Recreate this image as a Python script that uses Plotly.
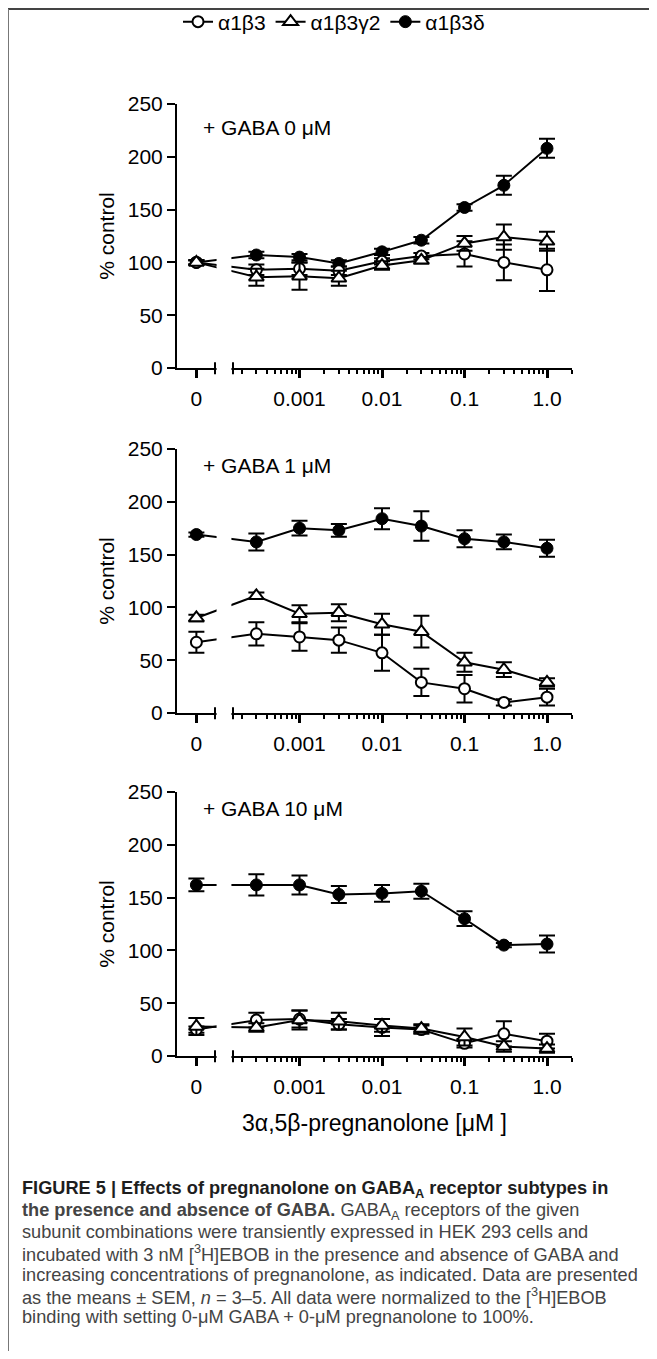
import plotly.graph_objects as go

# ---------------- data ----------------
concentrations = [0, 0.0003, 0.001, 0.003, 0.01, 0.03, 0.1, 0.3, 1.0]   # pregnanolone [µM]
x_tick_values = [0, 0.001, 0.01, 0.1, 1.0]
x_tick_labels = ["0", "0.001", "0.01", "0.1", "1.0"]
y_tick_values = [0, 50, 100, 150, 200, 250]
series_names = ["α1β3", "α1β3γ2", "α1β3δ"]
panel_labels = ["+ GABA 0 μM", "+ GABA 1 μM", "+ GABA 10 μM"]

# + GABA 0 µM
gaba0_a1b3 = [100, 93, 94, 92, 101, 106, 108, 100, 93]
gaba0_a1b3_err = [2, 5, 6, 4, 3, 3, 12, 17, 20]
gaba0_a1b3g2 = [100, 86, 87, 85, 97, 102, 118, 124, 120]
gaba0_a1b3g2_err = [2, 8, 13, 7, 4, 3, 7, 12, 9]
gaba0_a1b3d = [100, 107, 105, 99, 110, 121, 152, 173, 208]
gaba0_a1b3d_err = [2, 3, 3, 3, 3, 3, 3, 9, 9]

# + GABA 1 µM
gaba1_a1b3 = [67, 75, 72, 69, 57, 29, 23, 10, 15]
gaba1_a1b3_err = [10, 11, 13, 12, 17, 13, 13, 3, 8]
gaba1_a1b3g2 = [90, 111, 94, 95, 84, 77, 48, 41, 29]
gaba1_a1b3g2_err = [3, 3, 8, 8, 10, 15, 9, 7, 4]
gaba1_a1b3d = [169, 162, 175, 173, 184, 177, 165, 162, 156]
gaba1_a1b3d_err = [2, 8, 7, 6, 10, 14, 8, 7, 8]

# + GABA 10 µM
gaba10_a1b3 = [25, 34, 35, 30, 27, 25, 12, 21, 14]
gaba10_a1b3_err = [3, 7, 8, 5, 8, 4, 4, 12, 7]
gaba10_a1b3g2 = [28, 27, 34, 33, 29, 26, 18, 9, 7]
gaba10_a1b3g2_err = [8, 4, 9, 8, 6, 4, 8, 5, 4]
gaba10_a1b3d = [162, 162, 162, 153, 154, 156, 130, 105, 106]
gaba10_a1b3d_err = [6, 10, 9, 8, 8, 7, 7, 2, 8]

panels = [
    {"α1β3": (gaba0_a1b3, gaba0_a1b3_err), "α1β3γ2": (gaba0_a1b3g2, gaba0_a1b3g2_err),
     "α1β3δ": (gaba0_a1b3d, gaba0_a1b3d_err)},
    {"α1β3": (gaba1_a1b3, gaba1_a1b3_err), "α1β3γ2": (gaba1_a1b3g2, gaba1_a1b3g2_err),
     "α1β3δ": (gaba1_a1b3d, gaba1_a1b3d_err)},
    {"α1β3": (gaba10_a1b3, gaba10_a1b3_err), "α1β3γ2": (gaba10_a1b3g2, gaba10_a1b3g2_err),
     "α1β3δ": (gaba10_a1b3d, gaba10_a1b3d_err)},
]

# ---------------- layout helpers ----------------
W, H = 641, 1343          # page is 657x1359, body margin of 8 px
FONT = "Liberation Sans, Arial, sans-serif"
ZERO_POS = 10 ** -4.25    # where the "0" group sits on the broken log axis
LOG_RANGE = [-4.485, 0.303]


def px_x(px):
    return (px - 8) / W


def px_y(py):
    return 1 - (py - 8) / H


def xpos(c):
    return ZERO_POS if c == 0 else c


panel_px = [(104, 368), (449, 713), (792, 1056)]   # top, bottom (page px)
label_drop = [24, 17, 16]                          # label centre below panel top (px)
x_dom = [px_x(177), px_x(572)]

minor_vals = [m * 10 ** e for e in range(-4, 1) for m in range(2, 10)
              if 1.7e-4 < m * 10 ** e <= 2.0]

styles = {
    "α1β3": dict(symbol="circle", size=11, color="white", line=dict(color="black", width=2)),
    "α1β3γ2": dict(symbol="triangle-up", size=13, color="white", line=dict(color="black", width=2)),
    "α1β3δ": dict(symbol="circle", size=12, color="black", line=dict(color="black", width=1)),
}
draw_order = ["α1β3δ", "α1β3", "α1β3γ2"]
legend_rank = {"α1β3": 1, "α1β3γ2": 2, "α1β3δ": 3}

fig = go.Figure()
xs = [xpos(c) for c in concentrations]
for i, pdata in enumerate(panels):
    suf = "" if i == 0 else str(i + 1)
    for name in draw_order:
        vals, errs = pdata[name]
        fig.add_trace(go.Scatter(
            x=xs, y=vals, name=name, mode="lines+markers",
            xaxis="x" + suf, yaxis="y" + suf,
            line=dict(color="black", width=2),
            marker=styles[name],
            error_y=dict(type="data", array=errs, visible=True, color="black",
                         thickness=2, width=8),
            cliponaxis=False,
            showlegend=(i == 0), legendrank=legend_rank[name],
        ))

layout = dict(
    width=W, height=H, margin=dict(l=0, r=0, t=0, b=0, autoexpand=False),
    paper_bgcolor="white", plot_bgcolor="white", template="none",
    font=dict(family=FONT, size=21, color="black"),
    showlegend=True,
    legend=dict(orientation="h", x=px_x(334), xanchor="center", y=px_y(22), yanchor="middle",
                font=dict(size=21), itemwidth=30, bgcolor="rgba(0,0,0,0)"),
)
shapes = []
annotations = []
for i, (top, bot) in enumerate(panel_px):
    suf = "" if i == 0 else str(i + 1)
    ax_x = "xaxis" + suf
    ax_y = "yaxis" + suf
    layout[ax_x] = dict(
        domain=x_dom, anchor="y" + suf, type="log", range=LOG_RANGE,
        showline=True, linecolor="black", linewidth=2, mirror=False,
        ticks="outside", ticklen=8, tickwidth=3, tickcolor="black",
        tickvals=[xpos(v) for v in x_tick_values], ticktext=x_tick_labels,
        tickfont=dict(size=21), ticklabelstandoff=3,
        showgrid=False, zeroline=False,
        minor=dict(tickvals=minor_vals, ticks="outside", ticklen=4, tickwidth=2,
                   tickcolor="black", showgrid=False),
    )
    if i == 2:
        layout[ax_x]["title"] = dict(text="3α,5β-pregnanolone [μM ]", font=dict(size=23), standoff=18)
    layout[ax_y] = dict(
        domain=[px_y(bot), px_y(top)], anchor="x" + suf, range=[0, 250],
        showline=True, linecolor="black", linewidth=2,
        ticks="outside", ticklen=8, tickwidth=2, tickcolor="black",
        tickvals=y_tick_values, tickfont=dict(size=21),
        showgrid=False, zeroline=False,
        title=dict(text="% control", font=dict(size=21), standoff=7),
    )
    xd, yd = "x%s domain" % suf, "y%s domain" % suf
    b0, b1 = (215 - 177) / 395, (233 - 177) / 395
    shapes.append(dict(type="rect", xref=xd, yref=yd, x0=b0 + 0.004, x1=b1 - 0.004,
                       y0=-0.012, y1=1.0, fillcolor="white", line=dict(width=0), layer="above"))
    for bx in (b0, b1):
        shapes.append(dict(type="line", xref=xd, yref=yd, x0=bx, x1=bx, y0=-0.024, y1=0.022,
                           line=dict(color="black", width=2), layer="above"))
    annotations.append(dict(text=panel_labels[i], xref=xd, yref=yd, x=(201 - 177) / 395,
                            y=1 - label_drop[i] / 264, xanchor="left", yanchor="middle",
                            showarrow=False, font=dict(size=21)))

# figure frame
shapes.append(dict(type="line", xref="paper", yref="paper", x0=0, x1=1, y0=px_y(9), y1=px_y(9),
                   line=dict(color="#444", width=2)))
shapes.append(dict(type="line", xref="paper", yref="paper", x0=px_x(8.5), x1=px_x(8.5), y0=0, y1=px_y(9),
                   line=dict(color="#777", width=1)))

caption_lines = [
    "<b>FIGURE 5 | Effects of pregnanolone on GABA<sub>A</sub> receptor subtypes in</b>",
    "<b>the presence and absence of GABA.</b> GABA<sub>A</sub> receptors of the given",
    "subunit combinations were transiently expressed in HEK 293 cells and",
    "incubated with 3 nM [<sup>3</sup>H]EBOB in the presence and absence of GABA and",
    "increasing concentrations of pregnanolone, as indicated. Data are presented",
    "as the means ± SEM, <i>n</i> = 3–5. All data were normalized to the [<sup>3</sup>H]EBOB",
    "binding with setting 0-μM GABA + 0-μM pregnanolone to 100%.",
]
caption_y = [1189, 1211, 1232, 1253, 1275, 1296, 1317]
for k, (line, y) in enumerate(zip(caption_lines, caption_y)):
    annotations.append(dict(text=line, xref="paper", yref="paper", x=px_x(20), y=px_y(y),
                            xanchor="left", yanchor="middle", showarrow=False, align="left",
                            font=dict(size=18.2, color="#1e1e1e" if k == 0 else "#444")))

layout["shapes"] = shapes
layout["annotations"] = annotations
fig.update_layout(**layout)
fig.write_html("out.html")
